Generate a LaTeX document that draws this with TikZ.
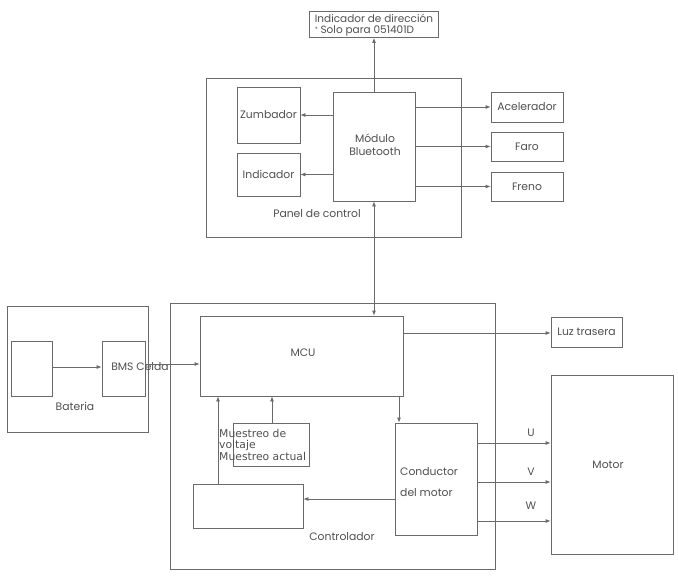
\documentclass[tikz,border=0pt]{standalone}
\usepackage{fontspec}
\setmainfont{Poppins}
\newfontfamily\muesfont{DejaVu Sans}
\usetikzlibrary{arrows.meta}
\definecolor{ln}{HTML}{6A6A6A}
\definecolor{tx}{HTML}{505050}
\begin{document}
\begin{tikzpicture}[x=1pt,y=-1pt,
  bx/.style={draw=ln,line width=0.8pt,inner sep=0pt},
  lbl/.style={text=tx,font=\fontsize{10.8}{12}\selectfont,inner sep=0pt},
  con/.style={draw=ln,line width=0.8pt,-{Latex[length=5pt,width=4pt]}},
  pl/.style={draw=ln,line width=0.8pt}]
\useasboundingbox[fill=white] (0,0) rectangle (678,576);
% boxes
\node[bx,minimum width=129,minimum height=26] (ind) at (373.5,24.5) {};
\node[bx,minimum width=255,minimum height=159] (panel) at (333.5,157.5) {};
\node[bx,minimum width=63,minimum height=56] (zum) at (268.5,115) {};
\node[bx,minimum width=63,minimum height=43] (indic) at (268.5,174.5) {};
\node[bx,minimum width=82,minimum height=109] (bt) at (374,146.5) {};
\node[bx,minimum width=72,minimum height=30] (acel) at (527,107) {};
\node[bx,minimum width=72,minimum height=29] (faro) at (527,146.5) {};
\node[bx,minimum width=72,minimum height=29] (freno) at (527,186.5) {};
\node[bx,minimum width=141,minimum height=126] (bat) at (77.5,369) {};
\node[bx,minimum width=41,minimum height=55] (cell) at (31.5,368.5) {};
\node[bx,minimum width=43,minimum height=55] (bms) at (123.5,368.5) {};
\node[bx,minimum width=325,minimum height=266] (ctrl) at (332.5,436) {};
\node[bx,minimum width=203,minimum height=80] (mcu) at (301.5,356) {};
\node[bx,minimum width=76,minimum height=43] (mues) at (271,444.5) {};
\node[bx,minimum width=82,minimum height=112] (cond) at (436,479) {};
\node[bx,minimum width=110,minimum height=44] (low) at (248,506) {};
\node[bx,minimum width=71,minimum height=30] (luz) at (586.5,332) {};
\node[bx,minimum width=122,minimum height=179] (motor) at (612,464.5) {};
% texts
\node[lbl,align=left,font=\fontsize{10.5}{10.5}\selectfont] (tind) at (374,25) {Indicador de dirección\\{\raisebox{1.5pt}{\fontsize{6}{6}\selectfont *} Solo para 051401D}};
\node[lbl] (tzum) at (268.5,115) {Zumbador};
\node[lbl] (tindic) at (268.5,174.5) {Indicador};
\node[lbl,align=center,font=\fontsize{10.8}{13}\selectfont] (tbt) at (375,145) {Módulo\\Bluetooth};
\node[lbl] (tpanel) at (317,214) {Panel de control};
\node[lbl] (tacel) at (527,107) {Acelerador};
\node[lbl] (tfaro) at (527,146.5) {Faro};
\node[lbl] (tfreno) at (527,186.5) {Freno};
\node[lbl] (tbat) at (75,406) {Bateria};
\node[lbl] (tbms) at (140,367) {BMS Celda};
\node[lbl] (tmcu) at (303,353) {MCU};
\node[lbl,align=left,anchor=west,font=\muesfont\fontsize{10.8}{11.5}\selectfont] (tmues) at (219,444.5) {Muestreo de\\voltaje\\Muestreo actual};
\node[lbl,align=left,anchor=west,font=\fontsize{10.8}{21}\selectfont] (tcond) at (400,482) {Conductor\\del motor};
\node[lbl] (tctrl) at (342,537) {Controlador};
\node[lbl] (tluz) at (586.5,332) {Luz trasera};
\node[lbl] (tmotor) at (608,465) {Motor};
\node[lbl] (tu) at (531,433) {U};
\node[lbl] (tv) at (531,472) {V};
\node[lbl] (tw) at (531,506) {W};
% connectors
\draw[con] (bt.north) -- (bt.north |- ind.south);
\draw[con] (bt.west |- zum.east) -- (zum.east);
\draw[con] (bt.west |- indic.east) -- (indic.east);
\draw[con] (bt.east |- acel.west) -- (acel.west);
\draw[con] (bt.east |- faro.west) -- (faro.west);
\draw[con] (bt.east |- freno.west) -- (freno.west);
\draw[con,{Latex[length=5pt,width=4pt]}-{Latex[length=5pt,width=4pt]}] (bt.south) -- (bt.south |- mcu.north);
\draw[con] (cell.east |- 0,367) -- (bms.west |- 0,367);
\draw[con] (bms.east |- 0,364) -- (mcu.west |- 0,364);
\draw[con] (mcu.east |- 0,333) -- (luz.west |- 0,333);
\draw[con] (mcu.south -| 399,0) -- (cond.north -| 399,0);
\draw[con] (low.north -| 218,0) -- (mcu.south -| 218,0);
\draw[con] (mues.north -| 272,0) -- (mcu.south -| 272,0);
\draw[con] (cond.west |- 0,499) -- (low.east |- 0,499);
\draw[con] (cond.east |- 0,443) -- (motor.west |- 0,443);
\draw[con] (cond.east |- 0,482) -- (motor.west |- 0,482);
\draw[con] (cond.east |- 0,521) -- (motor.west |- 0,521);
\end{tikzpicture}
\end{document}
